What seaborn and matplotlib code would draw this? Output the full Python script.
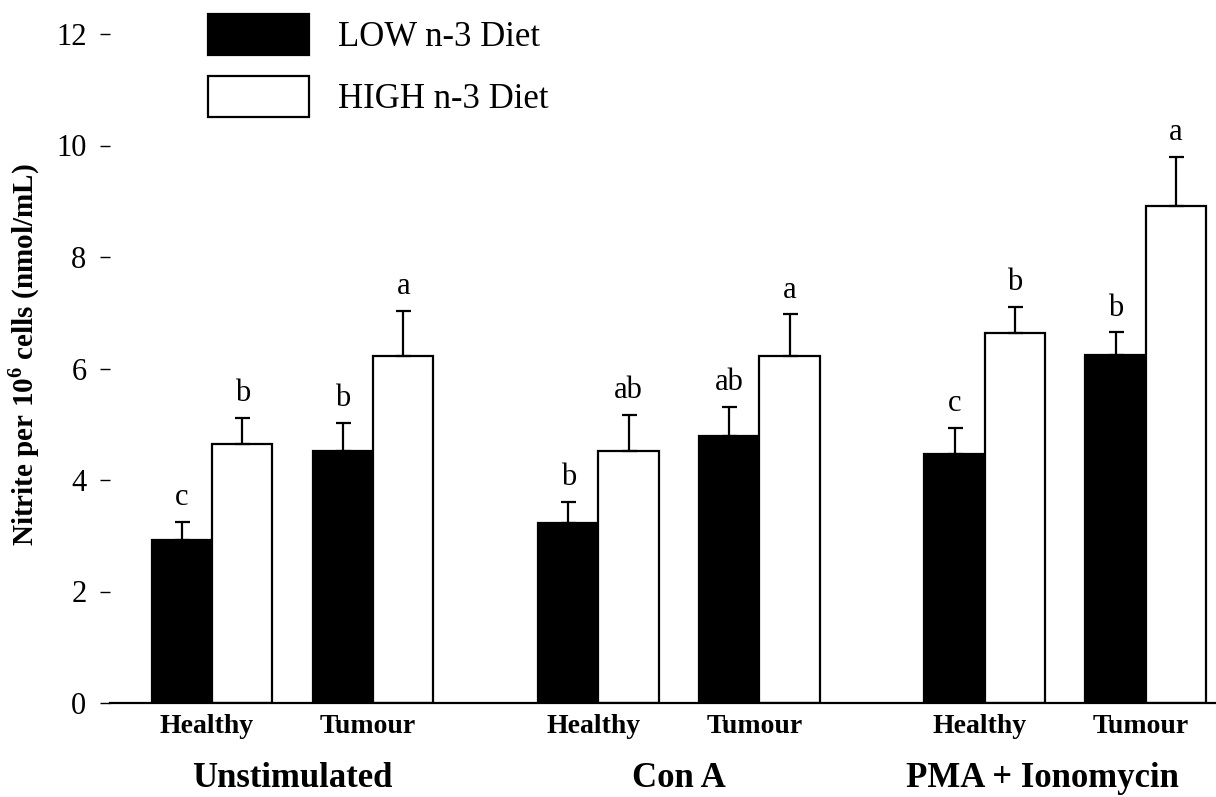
import numpy as np
import pandas as pd
import matplotlib
matplotlib.use("Agg")
import matplotlib.pyplot as plt
import matplotlib.transforms as mtransforms
import seaborn as sns

# ---------------- data ----------------
conditions = ["Unstimulated", "Con A", "PMA + Ionomycin"]
status = ["Healthy", "Tumour"]
diets = ["LOW n-3 Diet", "HIGH n-3 Diet"]
low_mean = [2.92, 4.52, 3.23, 4.79, 4.47, 6.24]
low_sem = [0.33, 0.50, 0.38, 0.52, 0.46, 0.41]
high_mean = [4.65, 6.22, 4.52, 6.22, 6.64, 8.91]
high_sem = [0.46, 0.81, 0.65, 0.75, 0.46, 0.88]
low_letters = ["c", "b", "b", "ab", "c", "b"]
high_letters = ["b", "a", "ab", "a", "b", "a"]
y_ticks = [0, 2, 4, 6, 8, 10, 12]
y_label = "Nitrite per 10$^{\\mathbf{6}}$ cells (nmol/mL)"

# ---------------- style ----------------
sns.set_style("white")
plt.rcParams["font.family"] = ["Liberation Serif", "DejaVu Serif"]
plt.rcParams["mathtext.fontset"] = "custom"
plt.rcParams["mathtext.rm"] = "Liberation Serif"
plt.rcParams["mathtext.bf"] = "Liberation Serif:bold"
plt.rcParams["text.color"] = "black"
plt.rcParams["axes.labelcolor"] = "black"
plt.rcParams["xtick.color"] = "black"
plt.rcParams["ytick.color"] = "black"

W, H = 1216, 797
fig = plt.figure(figsize=(W / 100, H / 100), dpi=100)
ax_left, ax_bottom, ax_top, ax_right = 110, 703, 34, 1216
ax = fig.add_axes([ax_left / W, 1 - ax_bottom / H,
                   (ax_right - ax_left) / W, (ax_bottom - ax_top) / H])

# positions of Healthy/Tumour pairs within three condition groups
group_step = 2.4
positions = []
for g in range(len(conditions)):
    for s in range(len(status)):
        positions.append(g * group_step + s)

rows = []
for i, p in enumerate(positions):
    rows.append({"pos": p, "val": low_mean[i], "diet": diets[0]})
    rows.append({"pos": p, "val": high_mean[i], "diet": diets[1]})
df = pd.DataFrame(rows)

sns.barplot(data=df, x="pos", y="val", hue="diet", hue_order=diets,
            native_scale=True, palette=["black", "white"], edgecolor="black",
            linewidth=1.6, width=0.75, gap=0, errorbar=None, ax=ax, legend=True)

# error bars (upper only) and letters
for cont, means, sems, letters in zip(ax.containers[:2],
                                      [low_mean, high_mean],
                                      [low_sem, high_sem],
                                      [low_letters, high_letters]):
    xs = [b.get_x() + b.get_width() / 2 for b in cont]
    ax.errorbar(xs, means, yerr=[np.zeros(len(sems)), sems], fmt="none",
                ecolor="black", elinewidth=1.6, capsize=5.4, capthick=1.6,
                zorder=1)
    for x, m, s, t in zip(xs, means, sems, letters):
        ax.text(x, m + s + 0.3, t, ha="center", va="baseline",
                fontsize=22, color="black")

ax.set_xlim((ax_left - 212) / 161, (ax_right - 212) / 161)
ax.set_ylim(0, 12)
ax.set_yticks(y_ticks)
ax.set_yticklabels([str(t) for t in y_ticks])
ax.set_xticks(positions)
ax.set_xticklabels(status * len(conditions), fontweight="bold", fontsize=20)
ax.tick_params(axis="x", length=0, pad=8)
ax.tick_params(axis="y", direction="out", length=7, width=1, pad=10,
               labelsize=22, left=True)
shift = mtransforms.ScaledTranslation(-5 / 100, 0, fig.dpi_scale_trans)
for lbl in ax.get_xticklabels():
    lbl.set_transform(lbl.get_transform() + shift)
ax.set_xlabel("")
ax.set_ylabel(y_label, fontsize=21, fontweight="bold")
ax.yaxis.set_label_coords(-0.0615, 0.52)

for sp in ["top", "right", "left"]:
    ax.spines[sp].set_visible(False)
ax.spines["bottom"].set_color("black")
ax.spines["bottom"].set_linewidth(1.6)

# condition group labels
trans = mtransforms.blended_transform_factory(ax.transData, ax.transAxes)
label_offsets = [0.0, 0.0, -0.14]
for g, name in enumerate(conditions):
    cx = g * group_step + 0.5 + label_offsets[g]
    ax.text(cx, (ax_bottom - 787) / (ax_bottom - ax_top), name, transform=trans,
            ha="center", va="baseline", fontsize=25, fontweight="bold")

# legend
handles, labels = ax.get_legend_handles_labels()
if ax.get_legend() is not None:
    ax.get_legend().remove()
leg = ax.legend(handles, labels, loc="upper left",
                bbox_to_anchor=(208 / W, 1 - 14 / H),
                bbox_transform=fig.transFigure, frameon=False, fontsize=25,
                handlelength=2.9, handleheight=1.45, labelspacing=0.6,
                handletextpad=0.85, borderpad=0, borderaxespad=0)
for p in leg.get_patches():
    p.set_edgecolor("black")
    p.set_linewidth(1.6)

fig.savefig("out.png", dpi=100, facecolor="white")
